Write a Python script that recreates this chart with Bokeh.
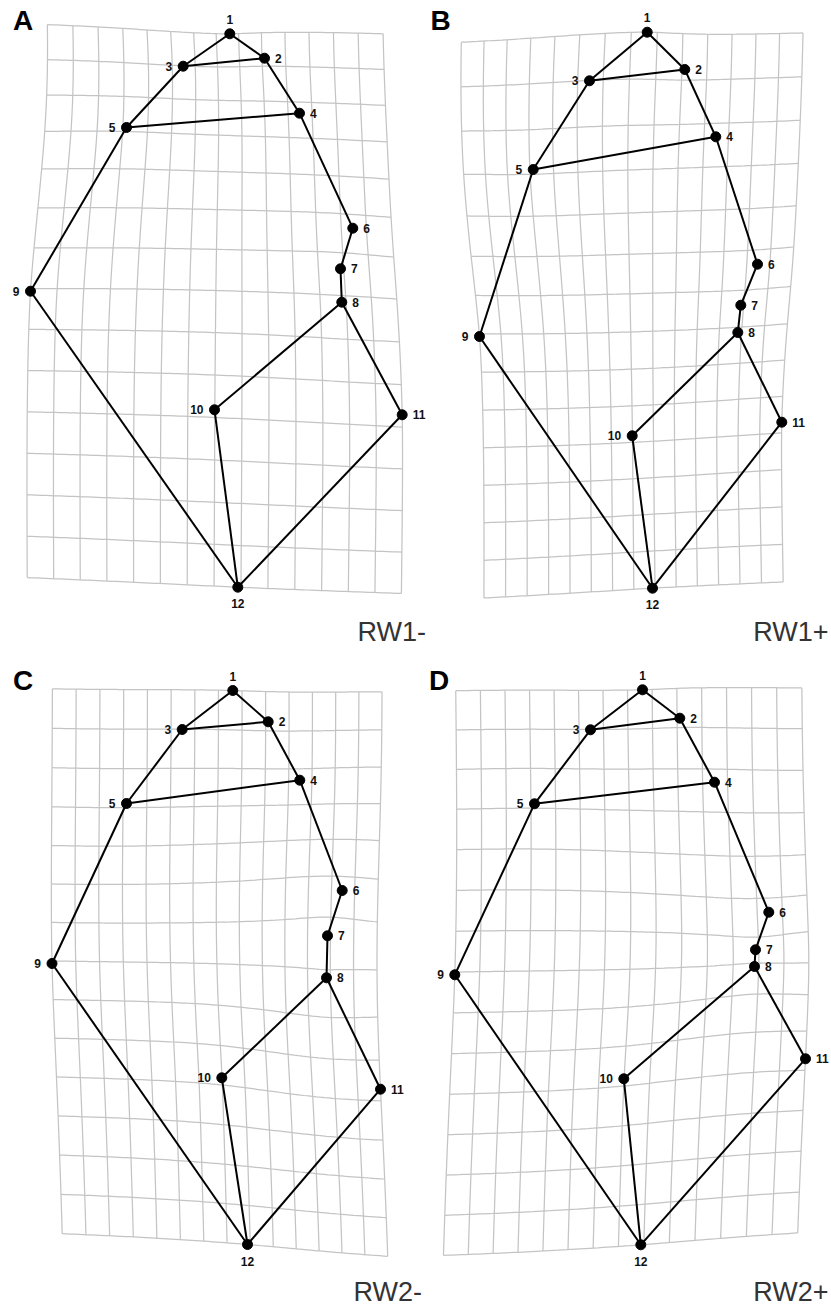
import numpy as np
from bokeh.plotting import figure
from bokeh.models import Range1d
from bokeh.embed import file_html
from bokeh.resources import INLINE
from bokeh.core.properties import value

# ---------------- data (page pixel coordinates) ----------------
landmark_ids = [str(i) for i in range(1, 13)]
edges = [(1, 2), (1, 3), (2, 3), (2, 4), (3, 5), (4, 5), (4, 6), (6, 7), (7, 8),
         (5, 9), (8, 10), (8, 11), (9, 12), (10, 12), (11, 12)]
label_side = ["top", "right", "left", "right", "left", "right", "right", "right",
              "left", "left", "right", "bottom"]

panel_letters = ["A", "B", "C", "D"]
panel_names = ["RW1-", "RW1+", "RW2-", "RW2+"]

a_x = [229.3, 264.0, 182.7, 299.0, 126.0, 352.3, 340.0, 341.3, 30.0, 214.0, 401.7, 237.3]
a_y = [33.3, 57.7, 65.7, 112.7, 127.0, 227.7, 268.3, 301.7, 290.7, 409.3, 414.3, 586.7]
b_x = [646.7, 684.3, 589.0, 715.3, 532.7, 757.0, 740.3, 737.3, 479.0, 631.7, 781.3, 652.0]
b_y = [31.7, 69.0, 80.3, 136.3, 169.0, 263.7, 304.7, 332.0, 336.0, 435.3, 421.7, 587.7]
c_x = [232.3, 267.7, 181.7, 299.3, 126.0, 341.7, 327.0, 326.0, 51.5, 221.3, 380.0, 247.0]
c_y = [690.0, 721.3, 729.0, 779.7, 803.0, 890.0, 935.3, 977.3, 963.0, 1077.3, 1088.7, 1244.0]
d_x = [642.0, 679.3, 590.0, 714.0, 534.0, 768.3, 755.0, 754.0, 454.3, 623.3, 805.0, 640.3]
d_y = [689.3, 717.7, 729.3, 781.7, 803.3, 911.7, 949.3, 966.0, 974.3, 1078.3, 1058.3, 1244.3]

grid_divisions = 14

# ---------------- styling / layout ----------------
W, H = 829, 1308
letter_pos = [(12.5, 20), (430, 20), (12.5, 679.5), (428.5, 679.5)]
name_pos = [(357, 631.5, "left"), (828, 631.5, "right"), (353, 1291, "left"), (828, 1291, "right")]
FONT = "Liberation Sans"

configs = [np.column_stack([a_x, a_y]), np.column_stack([b_x, b_y]),
           np.column_stack([c_x, c_y]), np.column_stack([d_x, d_y])]

# consensus: mean of the centred configurations
consensus = np.mean([c - c.mean(axis=0) for c in configs], axis=0)


def _U(d):
    out = np.zeros_like(d)
    m = d > 0
    out[m] = d[m] ** 2 * np.log(d[m])
    return out


def tps_fit(src, dst):
    n = len(src)
    K = _U(np.linalg.norm(src[:, None, :] - src[None, :, :], axis=2))
    P = np.hstack([np.ones((n, 1)), src])
    L = np.zeros((n + 3, n + 3))
    L[:n, :n] = K
    L[:n, n:] = P
    L[n:, :n] = P.T
    rhs = np.zeros((n + 3, 2))
    rhs[:n] = dst
    return np.linalg.solve(L, rhs)


def tps_apply(coef, src, pts):
    n = len(src)
    U = _U(np.linalg.norm(pts[:, None, :] - src[None, :, :], axis=2))
    P = np.hstack([np.ones((len(pts), 1)), pts])
    return U @ coef[:n] + P @ coef[n:]


xmin, ymin = consensus.min(axis=0)
xmax, ymax = consensus.max(axis=0)
gx = np.linspace(xmin, xmax, grid_divisions + 1)
gy = np.linspace(ymin, ymax, grid_divisions + 1)
ts = 80
base_lines = []
for x in gx:
    base_lines.append(np.column_stack([np.full(ts, x), np.linspace(ymin, ymax, ts)]))
for y in gy:
    base_lines.append(np.column_stack([np.linspace(xmin, xmax, ts), np.full(ts, y)]))

p = figure(width=W, height=H, x_range=Range1d(0, W), y_range=Range1d(H, 0),
           output_backend="svg", toolbar_location=None, min_border=0)
p.axis.visible = False
p.grid.visible = False
p.outline_line_color = None
p.background_fill_color = "white"
p.border_fill_color = "white"

offsets = {"top": ("center", 0, -14.5), "bottom": ("center", 0, 16.5),
           "right": ("left", 10.5, 0), "left": ("right", -11, 0)}

for k, cfg in enumerate(configs):
    coef = tps_fit(consensus, cfg)
    xs, ys = [], []
    for line in base_lines:
        w = tps_apply(coef, consensus, line)
        xs.append(w[:, 0].tolist())
        ys.append(w[:, 1].tolist())
    p.multi_line(xs, ys, line_color="#c4c4c4", line_width=1.25)

    exs = [[cfg[i - 1, 0], cfg[j - 1, 0]] for i, j in edges]
    eys = [[cfg[i - 1, 1], cfg[j - 1, 1]] for i, j in edges]
    p.multi_line(exs, eys, line_color="black", line_width=2)
    p.scatter(cfg[:, 0], cfg[:, 1], size=10, color="black")

    for side, (align, xo, yo) in offsets.items():
        idx = [i for i, s in enumerate(label_side) if s == side]
        p.text(x=[cfg[i, 0] for i in idx], y=[cfg[i, 1] for i in idx],
               text=[landmark_ids[i] for i in idx],
               text_align=align, text_baseline="alphabetic", x_offset=xo, y_offset=yo,
               text_font=value(FONT), text_font_style="bold", text_font_size="12px",
               text_color="#111111")

    lx, ly = letter_pos[k]
    p.text(x=[lx], y=[ly], text=[panel_letters[k]], text_align="left",
           text_baseline="alphabetic", text_font=value(FONT), text_font_style="bold",
           text_font_size="28px", text_color="black")
    nx, ny, nalign = name_pos[k]
    p.text(x=[nx], y=[ny], text=[panel_names[k]], text_align=nalign,
           text_baseline="alphabetic", text_font=value(FONT), text_font_size="27px",
           text_color="#333333")

open("out.html", "w").write(file_html(p, INLINE))
